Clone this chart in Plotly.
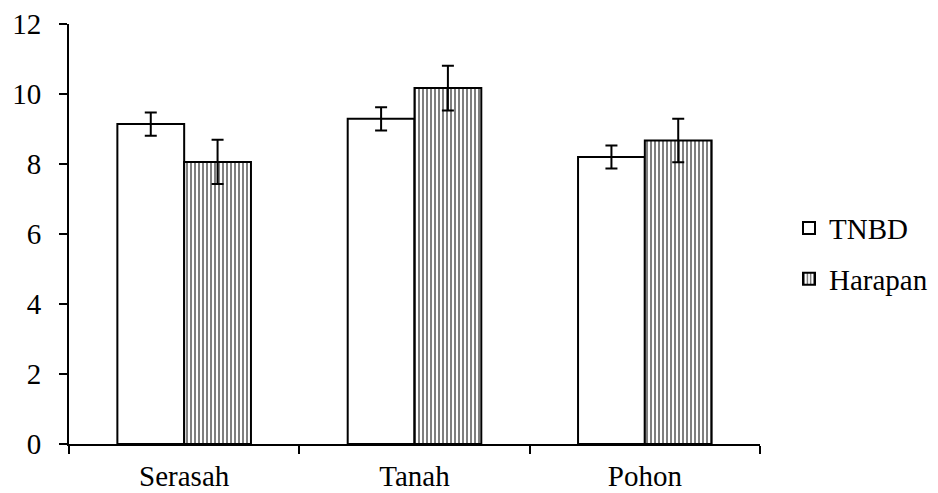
import plotly.graph_objects as go

categories = ["Serasah", "Tanah", "Pohon"]
tnbd_values = [9.14, 9.29, 8.20]
tnbd_errors = [0.33, 0.33, 0.33]
harapan_values = [8.06, 10.17, 8.67]
harapan_errors = [0.63, 0.64, 0.62]
y_ticks = [0, 2, 4, 6, 8, 10, 12]

FONT = "serif"

fig = go.Figure()
fig.add_trace(go.Bar(
    x=categories, y=tnbd_values, name="TNBD", legendgroup="g1",
    marker=dict(color="white", line=dict(color="black", width=2)),
    error_y=dict(type="data", array=tnbd_errors, color="black", thickness=2, width=6),
))
fig.add_trace(go.Bar(
    x=categories, y=harapan_values, name="Harapan", legendgroup="g2",
    marker=dict(color="white", line=dict(color="black", width=2),
                pattern=dict(shape="|", fgcolor="black", bgcolor="white", size=4, solidity=0.5)),
    error_y=dict(type="data", array=harapan_errors, color="black", thickness=2, width=6),
))

fig.update_layout(
    width=938, height=493,
    margin=dict(l=69, r=178, t=24, b=49, autoexpand=False),
    paper_bgcolor="white", plot_bgcolor="white",
    barmode="group", bargap=0.42, bargroupgap=0,
    font=dict(family=FONT, size=29, color="black"),
    showlegend=True,
    legend=dict(x=1.042, y=0.453, xanchor="left", yanchor="middle",
                font=dict(family=FONT, size=29, color="black"),
                tracegroupgap=10, itemwidth=30),
)
fig.update_xaxes(
    showline=True, linecolor="black", linewidth=2,
    ticks="outside", ticklen=8, tickwidth=2, tickcolor="black",
    tickson="boundaries", showgrid=False, ticklabelstandoff=5, automargin=False,
    tickfont=dict(family=FONT, size=29, color="black"),
)
fig.update_yaxes(
    range=[0, 12], tickvals=y_ticks,
    showline=True, linecolor="black", linewidth=2,
    ticks="outside", ticklen=8, tickwidth=2, tickcolor="black",
    showgrid=False, zeroline=False, ticklabelstandoff=12, automargin=False,
    tickfont=dict(family=FONT, size=29, color="black"),
)

fig.write_html("out.html", config={"displayModeBar": False},
               post_script="document.body.style.margin='0';")
